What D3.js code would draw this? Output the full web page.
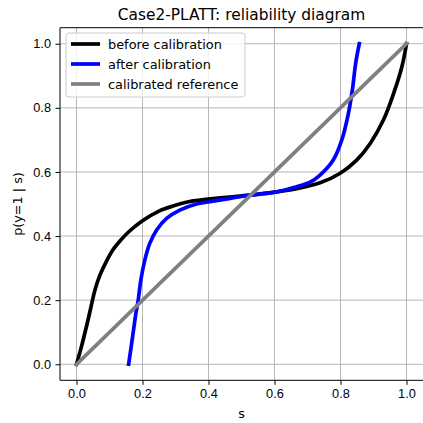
<!DOCTYPE html>
<html>
   <head>
      <script src="https://d3js.org/d3.v7.min.js"></script>
   </head>
   <style>
      body { margin: 0; background: white; }
      svg { font-family: "DejaVu Sans", sans-serif; }
      .grid line { stroke: #b0b0b0; stroke-width: 0.9; }
      .axis path, .axis line { stroke: black; stroke-width: 1; }
      .axis text { font-size: 12.8px; fill: black; }
   </style>
   <body>
      <svg id="chart" width="423" height="423"></svg>
      <script>
         // before calibration (s, p)
         let beforeS = [0, 0.015, 0.03, 0.042, 0.056, 0.071, 0.091, 0.111, 0.131, 0.16, 0.2, 0.25, 0.29, 0.34, 0.405, 0.516, 0.607, 0.667, 0.738, 0.799, 0.849, 0.89, 0.93, 0.961, 0.986, 1.0];
         let beforeP = [0, 0.055, 0.117, 0.17, 0.232, 0.278, 0.322, 0.358, 0.384, 0.415, 0.448, 0.478, 0.493, 0.507, 0.516, 0.527, 0.538, 0.548, 0.566, 0.596, 0.637, 0.689, 0.762, 0.845, 0.928, 1.0];

         // after calibration (s, p)
         let afterS = [0.158, 0.17, 0.18, 0.187, 0.195, 0.207, 0.222, 0.243, 0.273, 0.313, 0.364, 0.404, 0.516, 0.607, 0.667, 0.708, 0.738, 0.778, 0.804, 0.824, 0.836, 0.846, 0.857];
         let afterP = [0.0, 0.086, 0.159, 0.2, 0.263, 0.325, 0.377, 0.419, 0.455, 0.481, 0.5, 0.507, 0.526, 0.538, 0.554, 0.568, 0.59, 0.637, 0.7, 0.783, 0.856, 0.939, 1.0];

         let refS = [0, 1];
         let refP = [0, 1];

         let ticks = [0, 0.2, 0.4, 0.6, 0.8, 1.0];
         let legendNames = ['before calibration', 'after calibration', 'calibrated reference'];
         let colors = ['black', 'blue', 'gray'];

         let svg = d3.select('#chart');
         let mLeft = 60, mRight = 423, mTop = 27.7, mBottom = 380.3;

         let x = d3.scaleLinear().domain([-0.05, 1.05]).range([mLeft, mRight]);
         let y = d3.scaleLinear().domain([-0.05, 1.05]).range([mBottom, mTop]);

         // grid
         let grid = svg.append('g').attr('class', 'grid');
         grid.selectAll('.gx').data(ticks).enter().append('line')
            .attr('x1', d => x(d)).attr('x2', d => x(d))
            .attr('y1', mTop).attr('y2', mBottom);
         grid.selectAll('.gy').data(ticks).enter().append('line')
            .attr('y1', d => y(d)).attr('y2', d => y(d))
            .attr('x1', mLeft).attr('x2', mRight);

         // lines, drawn in the same order as the legend
         let series = [
            {s: beforeS, p: beforeP, color: colors[0]},
            {s: afterS, p: afterP, color: colors[1]},
            {s: refS, p: refP, color: colors[2]},
         ];
         let line = d3.line().x(d => x(d[0])).y(d => y(d[1])).curve(d3.curveCatmullRom.alpha(0.5));

         series.forEach(ser => {
            svg.append('path')
               .datum(ser.s.map((v, i) => [v, ser.p[i]]))
               .attr('d', line)
               .attr('fill', 'none')
               .attr('stroke', ser.color)
               .attr('stroke-width', 3.7)
               .attr('stroke-linecap', 'square')
               .attr('stroke-linejoin', 'round');
         });

         // axes
         let fmt = d3.format('.1f');
         let xAxis = svg.append('g').attr('class', 'axis')
            .attr('transform', `translate(0, ${mBottom})`)
            .call(d3.axisBottom(x).tickValues(ticks).tickFormat(fmt).tickSize(4.5).tickPadding(4.5));
         xAxis.select('.domain').remove();
         let yAxis = svg.append('g').attr('class', 'axis')
            .attr('transform', `translate(${mLeft}, 0)`)
            .call(d3.axisLeft(y).tickValues(ticks).tickFormat(fmt).tickSize(4.5).tickPadding(4.5));
         yAxis.select('.domain').remove();

         svg.append('line').attr('x1', mLeft).attr('x2', mLeft).attr('y1', mTop).attr('y2', mBottom)
            .attr('stroke', 'black').attr('stroke-width', 1);
         svg.append('line').attr('x1', mLeft).attr('x2', mRight).attr('y1', mBottom).attr('y2', mBottom)
            .attr('stroke', 'black').attr('stroke-width', 1);
         svg.append('line').attr('x1', mLeft).attr('x2', mRight).attr('y1', mTop).attr('y2', mTop)
            .attr('stroke', 'black').attr('stroke-width', 1);

         // labels
         svg.append('text').text('Case2-PLATT: reliability diagram')
            .attr('x', (mLeft + mRight) / 2).attr('y', 20)
            .attr('text-anchor', 'middle').attr('font-size', 15.4);
         svg.append('text').text('s')
            .attr('x', (mLeft + mRight) / 2).attr('y', 418)
            .attr('text-anchor', 'middle').attr('font-size', 12.8);
         svg.append('text').text('p(y=1 | s)')
            .attr('transform', `translate(22, ${(mTop + mBottom) / 2}) rotate(-90)`)
            .attr('text-anchor', 'middle').attr('font-size', 12.8);

         // legend
         let legend = svg.append('g').attr('transform', 'translate(66, 33)');
         legend.append('rect')
            .attr('width', 179).attr('height', 64).attr('rx', 3)
            .attr('fill', 'white').attr('fill-opacity', 0.8)
            .attr('stroke', '#cccccc').attr('stroke-width', 1);
         let items = legend.selectAll('.item').data(legendNames).enter().append('g')
            .attr('transform', (d, i) => `translate(0, ${11 + i * 20})`);
         items.append('line')
            .attr('x1', 5).attr('x2', 34)
            .attr('stroke', (d, i) => colors[i]).attr('stroke-width', 3.7);
         items.append('text').text(d => d)
            .attr('x', 42).attr('y', 4.6).attr('font-size', 12.9);
      </script>
   </body>
</html>
